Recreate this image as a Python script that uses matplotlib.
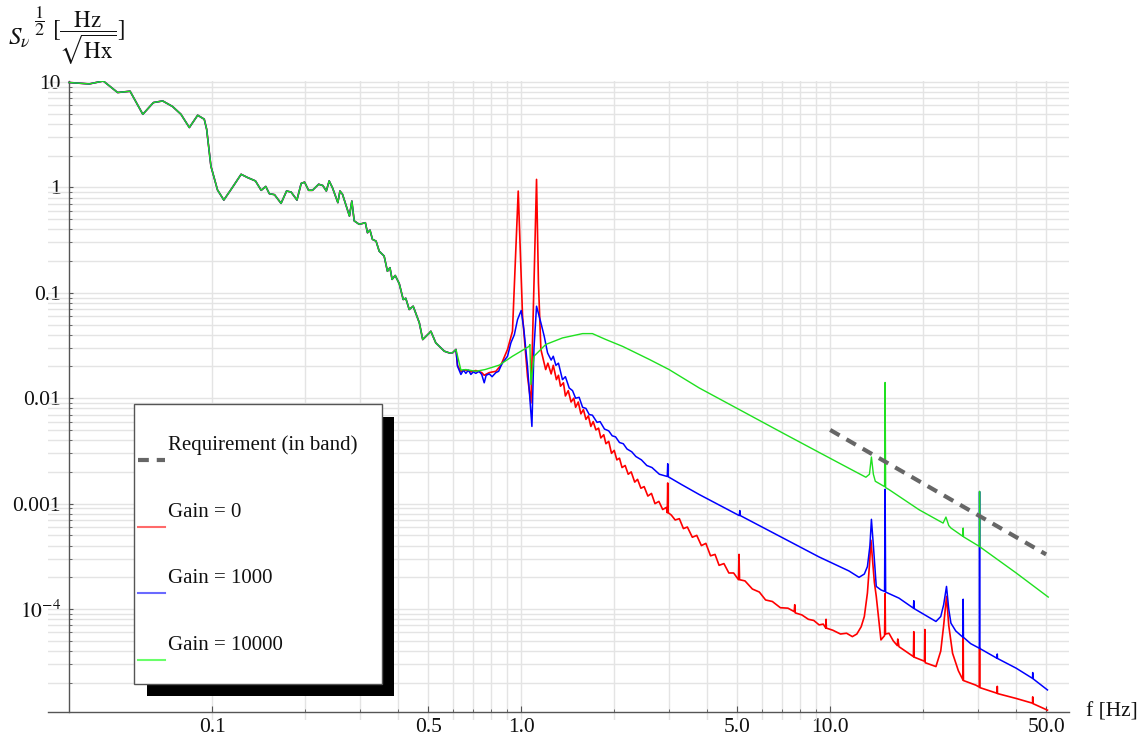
import numpy as np
import matplotlib
matplotlib.use('Agg')
import matplotlib.pyplot as plt
from matplotlib.patches import Rectangle
from matplotlib.lines import Line2D
from matplotlib.ticker import NullFormatter

plt.rcParams['font.family'] = ['Liberation Serif', 'DejaVu Serif']
plt.rcParams['mathtext.fontset'] = 'stix'

# --- data ----------------------------------------------------------------
# low frequency part, identical for the three gains
f_common = [0.0344, 0.040, 0.0444, 0.0494, 0.0542, 0.0596, 0.0645, 0.0691, 0.0744, 0.0792,
            0.0843, 0.0897, 0.0942, 0.0959, 0.099, 0.104, 0.109, 0.116, 0.124, 0.130,
            0.138, 0.144, 0.149, 0.153, 0.159, 0.167, 0.174, 0.180, 0.188, 0.194,
            0.199, 0.205, 0.211, 0.221, 0.228, 0.234, 0.239, 0.245, 0.255, 0.259,
            0.264, 0.278, 0.283, 0.288, 0.299, 0.313, 0.318, 0.324, 0.330, 0.339,
            0.347, 0.360, 0.369, 0.376, 0.382, 0.391, 0.403, 0.415, 0.423, 0.434,
            0.447, 0.468, 0.480, 0.505, 0.510, 0.529, 0.543, 0.556, 0.564, 0.585,
            0.600, 0.615]
s_common = [9.87, 9.57, 10.2, 7.93, 8.16, 4.93, 6.37, 6.6, 5.84, 4.93,
            3.69, 4.83, 4.43, 3.56, 1.59, 0.944, 0.758, 0.99, 1.33, 1.24,
            1.15, 0.937, 1.02, 0.871, 0.852, 0.705, 0.923, 0.902, 0.758, 1.09,
            1.12, 0.937, 0.937, 1.07, 1.04, 0.923, 1.15, 0.99, 0.716, 0.923,
            0.859, 0.534, 0.741, 0.481, 0.446, 0.462, 0.371, 0.393, 0.321, 0.309,
            0.248, 0.223, 0.160, 0.173, 0.134, 0.146, 0.122, 0.0863, 0.0887, 0.0694,
            0.0746, 0.0519, 0.036, 0.0417, 0.0432, 0.0335, 0.0311, 0.029, 0.0279, 0.0269,
            0.027, 0.029]

# Gain = 0
f_gain0 = [0.622, 0.638, 0.662, 0.687, 0.713, 0.745, 0.759, 0.788, 0.828, 0.859,
           0.903, 0.937, 0.961, 0.978, 0.993, 1.01, 1.048, 1.075, 1.10, 1.121,
           1.137, 1.158, 1.20, 1.22, 1.25, 1.27, 1.30, 1.32, 1.34, 1.37,
           1.39, 1.42, 1.45, 1.48, 1.50, 1.53, 1.56, 1.59, 1.62, 1.65,
           1.68, 1.71, 1.745, 1.78, 1.81, 1.85, 1.88, 1.92, 1.96, 2.00,
           2.04, 2.08, 2.12, 2.17, 2.22, 2.27, 2.33, 2.38, 2.44, 2.50,
           2.57, 2.64, 2.71, 2.79, 2.87, 2.95, 2.97, 2.98, 2.99, 3.06,
           3.15, 3.25, 3.35, 3.45, 3.58, 3.70, 3.83, 3.96, 4.10, 4.24,
           4.37, 4.53, 4.70, 4.87, 5.05, 5.07, 5.09, 5.30, 5.60, 5.90,
           6.18, 6.50, 6.90, 7.30, 7.65, 7.68, 7.71, 8.10, 8.50, 8.85,
           9.21, 9.50, 9.68, 9.70, 9.72, 10.2, 10.8, 11.3, 11.8, 12.2,
           12.6, 12.9, 13.2, 13.4, 13.55, 13.7, 13.9, 14.1, 14.4, 14.6,
           15.0, 15.06, 15.1, 15.5, 16.0, 16.5, 16.55, 16.7, 17.5, 18.6,
           18.65, 18.7, 20.2, 20.25, 20.3, 22.0, 22.8, 23.3, 23.8, 24.2,
           24.9, 26.0, 26.9, 26.95, 27.0, 29.6, 30.4, 30.45, 30.5, 34.7,
           34.75, 34.8, 40.0, 45.2, 45.25, 45.3, 50.5]
s_gain0 = [0.0205, 0.0180, 0.0185, 0.0178, 0.0183, 0.0175, 0.0165, 0.0175, 0.0180, 0.0205,
           0.029, 0.0432, 0.258, 0.922, 0.258, 0.060, 0.0161, 0.009, 0.124, 1.19,
           0.124, 0.029, 0.0187, 0.0215, 0.0170, 0.0205, 0.0150, 0.0165, 0.0130, 0.0140,
           0.0105, 0.0118, 0.0092, 0.0100, 0.0082, 0.0092, 0.0071, 0.0078, 0.0063, 0.0068,
           0.0054, 0.0060, 0.0050, 0.0052, 0.0042, 0.0045, 0.0037, 0.0039, 0.0030, 0.0032,
           0.0026, 0.0027, 0.0022, 0.0023, 0.0019, 0.0020, 0.0016, 0.0017, 0.0014, 0.00145,
           0.00118, 0.00125, 0.00100, 0.00105, 0.00088, 0.00092, 0.00082, 0.00157, 0.00082, 0.00078,
           0.00070, 0.00072, 0.00058, 0.00060, 0.00048, 0.00050, 0.00040, 0.00042, 0.00032, 0.00033,
           0.00026, 0.00027, 0.00022, 0.00022, 0.00019, 0.00033, 0.00019, 0.000185, 0.000155, 0.000145,
           0.000122, 0.000118, 0.000103, 0.000102, 0.0000946, 0.00011, 0.000092, 0.000088, 0.000080, 0.000078,
           0.0000708, 0.000072, 0.000066, 0.000080, 0.000066, 0.000063, 0.000058, 0.000059, 0.0000548, 0.000058,
           0.000068, 0.000085, 0.000142, 0.00026, 0.00045, 0.00030, 0.00018, 0.000132, 0.000075, 0.000051,
           0.000056, 0.00014, 0.000058, 0.000059, 0.000050, 0.000045, 0.000052, 0.000044, 0.000040, 0.0000354,
           0.000061, 0.000035, 0.000032, 0.000064, 0.000031, 0.0000285, 0.000040, 0.000070, 0.000132, 0.000070,
           0.0000381, 0.000026, 0.0000213, 0.000055, 0.000021, 0.000019, 0.0000182, 0.000043, 0.000018, 0.0000159,
           0.0000185, 0.0000158, 0.0000142, 0.0000128, 0.0000147, 0.0000127, 0.000011]

# Gain = 1000
f_gain1000 = [0.622, 0.638, 0.650, 0.662, 0.675, 0.687, 0.700, 0.713, 0.730, 0.745,
              0.759, 0.770, 0.788, 0.805, 0.828, 0.845, 0.859, 0.870, 0.903, 0.926,
              0.950, 0.973, 1.0, 1.02, 1.048, 1.083, 1.10, 1.121, 1.158, 1.187,
              1.217, 1.25, 1.27, 1.295, 1.32, 1.36, 1.39, 1.43, 1.466, 1.50,
              1.54, 1.58, 1.62, 1.66, 1.70, 1.76, 1.80, 1.86, 1.92, 1.97,
              2.02, 2.08, 2.14, 2.20, 2.28, 2.35, 2.45, 2.55, 2.65, 2.80,
              2.97, 2.98, 2.99, 3.3, 3.77, 5.08, 5.10, 5.12, 7.19, 9.21,
              11.5, 12.4, 12.9, 13.2, 13.45, 13.6, 13.8, 14.1, 14.6, 15.0,
              15.06, 15.12, 16.7, 18.6, 18.65, 18.7, 20.0, 22.0, 22.8, 23.3,
              23.8, 24.2, 24.6, 25.5, 26.9, 26.95, 27.0, 28.5, 30.4, 30.45,
              30.5, 34.7, 34.75, 34.8, 40.0, 45.2, 45.25, 45.3, 50.5]
s_gain1000 = [0.0201, 0.0168, 0.0185, 0.0172, 0.0185, 0.0168, 0.0178, 0.0172, 0.0180, 0.0168,
              0.0140, 0.0165, 0.0170, 0.0160, 0.0175, 0.0180, 0.0201, 0.0216, 0.025, 0.0335,
              0.040, 0.0557, 0.068, 0.0448, 0.0201, 0.0054, 0.030, 0.0746, 0.0519, 0.0387,
              0.0269, 0.0230, 0.0250, 0.0205, 0.0215, 0.0150, 0.0160, 0.0125, 0.0118, 0.0100,
              0.0102, 0.0082, 0.0080, 0.0070, 0.0069, 0.0059, 0.0060, 0.0051, 0.0049, 0.0044,
              0.0043, 0.0038, 0.0037, 0.0033, 0.0031, 0.0028, 0.0026, 0.0023, 0.0022, 0.0019,
              0.00181, 0.00239, 0.00180, 0.00152, 0.00122, 0.00077, 0.00086, 0.00077, 0.000456, 0.000312,
              0.00023, 0.000200, 0.000215, 0.000253, 0.00040, 0.00071, 0.00040, 0.000164, 0.000152, 0.000147,
              0.00137, 0.000145, 0.000127, 0.000102, 0.00012, 0.000101, 0.000090, 0.0000763, 0.000085, 0.00011,
              0.000164, 0.00010, 0.0000735, 0.000062, 0.000054, 0.000124, 0.000054, 0.000047, 0.0000425, 0.0013,
              0.0000423, 0.0000341, 0.0000375, 0.000034, 0.0000275, 0.0000220, 0.000025, 0.0000219, 0.0000171]

# Gain = 10000
f_gain10000 = [0.638, 0.662, 0.713, 0.764, 0.849, 0.937, 1.0, 1.06, 1.067, 1.075,
               1.10, 1.20, 1.36, 1.58, 1.70, 1.88, 2.13, 2.60, 3.01, 3.77,
               5.0, 7.0, 9.21, 11.0, 13.05, 13.4, 13.6, 13.8, 14.0, 15.0,
               15.06, 15.12, 15.5, 19.4, 23.2, 23.7, 24.2, 24.6, 26.9, 26.95,
               27.0, 30.4, 30.45, 30.5, 40.0, 50.8]
s_gain10000 = [0.0185, 0.0187, 0.0180, 0.0187, 0.0206, 0.025, 0.028, 0.031, 0.0323, 0.0135,
               0.025, 0.0323, 0.0373, 0.041, 0.041, 0.036, 0.031, 0.0233, 0.0187, 0.0125,
               0.0080, 0.0047, 0.00306, 0.00232, 0.00178, 0.0019, 0.00277, 0.0019, 0.00163, 0.00145,
               0.0141, 0.00142, 0.00136, 0.000875, 0.000654, 0.000746, 0.00062, 0.000587, 0.000489, 0.000587,
               0.000485, 0.000393, 0.00131, 0.00039, 0.00022, 0.000130]

# requirement (in band)
f_req = [10.0, 50.0]
s_req = [5.0e-3, 3.3e-4]

labels = ['Requirement (in band)', 'Gain = 0', 'Gain = 1000', 'Gain = 10000']

# -------------------------------------------------------------------------
W, H = 1144, 743
fig = plt.figure(figsize=(W / 100, H / 100), dpi=100)

def fx(px):
    return px / W

def fy(py):
    return 1 - py / H

ax = fig.add_axes([fx(48), fy(720), (1069 - 48) / W, (720 - 81) / H])
ax.set_xscale('log')
ax.set_yscale('log')
ax.set_xlim(0.0294, 59.3)
ax.set_ylim(8.87e-6, 10.2)

ax.plot(f_common + f_gain0, s_common + s_gain0, color='#ff0000', lw=1.2, zorder=3)
ax.plot(f_common + f_gain1000, s_common + s_gain1000, color='#0000ff', lw=1.1, zorder=4)
ax.plot(f_common + f_gain10000, s_common + s_gain10000, color='#1fe01f', lw=1.0, zorder=5)
ax.plot(f_req, s_req, color='#666666', lw=3.0, dashes=(2.6, 1.9), zorder=6)

# Mathematica-like axes crossing inside the frame
for s in ['top', 'right']:
    ax.spines[s].set_visible(False)
ax.spines['left'].set_position(('data', 0.0344))
ax.spines['bottom'].set_position(('data', 1.057e-5))
ax.spines['left'].set_bounds(1.057e-5, 10.2)
for s in ['left', 'bottom']:
    ax.spines[s].set_color('#555555')
    ax.spines[s].set_linewidth(1.0)

x_major = [0.1, 0.5, 1.0, 5.0, 10.0, 50.0]
x_minor = [0.2, 0.3, 0.4, 0.6, 0.7, 0.8, 0.9, 2, 3, 4, 6, 7, 8, 9, 20, 30, 40]
ax.set_xticks(x_major, labels=['0.1', '0.5', '1.0', '5.0', '10.0', '50.0'])
ax.set_xticks(x_minor, minor=True)
y_major = [1e-4, 1e-3, 1e-2, 0.1, 1, 10]
y_minor = [k * 10.0 ** n for n in range(-5, 1) for k in range(2, 10)]
ax.set_yticks(y_major, labels=[r'$10^{-4}$', '0.001', '0.01', '0.1', '1', '10'])
ax.set_yticks(y_minor, minor=True)
ax.xaxis.set_minor_formatter(NullFormatter())
ax.yaxis.set_minor_formatter(NullFormatter())
ax.tick_params(which='both', direction='in', color='#555555', labelsize=15.5, labelcolor='#111111')
ax.tick_params(axis='x', which='major', length=4, pad=4)
ax.tick_params(axis='x', which='minor', length=2.5)
ax.tick_params(axis='y', which='major', length=3, pad=6)
ax.tick_params(axis='y', which='minor', length=2.5)
ax.grid(which='both', color='#e4e4e4', lw=1.0)
ax.set_axisbelow(True)

fig.text(fx(1086), fy(712), 'f [Hz]', fontsize=15.5, va='center', ha='left', color='#111111')
# y label S_v^(1/2) [Hz / sqrt(Hx)] built from three pieces
fig.text(fx(8), fy(38), r'$S_{\nu}$', fontsize=18, va='center', ha='left', color='#111111')
fig.text(fx(40), fy(21), r'$\dfrac{1}{2}$', fontsize=13, va='center', ha='center', color='#111111')
fig.text(fx(52), fy(38), r'$[\dfrac{\mathrm{Hz}}{\sqrt{\mathrm{Hx}}}]$', fontsize=16.5,
         va='center', ha='left', color='#111111')

# legend box with black drop shadow
fig.add_artist(Rectangle((fx(147), fy(696)), (394 - 147) / W, (696 - 417) / H,
                         transform=fig.transFigure, facecolor='black', edgecolor='none', zorder=10))
fig.add_artist(Rectangle((fx(134), fy(684)), (382 - 134) / W, (684 - 404) / H,
                         transform=fig.transFigure, facecolor='white', edgecolor='#555555',
                         lw=1.0, zorder=11))
leg_colors = ['#666666', '#ff6a6a', '#6a6aff', '#6aff6a']
leg_text_y = [450, 516.7, 583.3, 650]
for i, lab in enumerate(labels):
    ly = leg_text_y[i] + 10
    if i == 0:
        ln = Line2D([fx(138), fx(165)], [fy(ly), fy(ly)], color=leg_colors[i], lw=3.0,
                    dashes=(2.6, 1.9), transform=fig.transFigure, zorder=12)
    else:
        ln = Line2D([fx(138), fx(165)], [fy(ly), fy(ly)], color=leg_colors[i], lw=1.5,
                    transform=fig.transFigure, zorder=12)
    fig.add_artist(ln)
    fig.text(fx(168), fy(leg_text_y[i]), lab, fontsize=15, va='baseline', ha='left',
             color='#111111', zorder=12)

fig.savefig('out.png', dpi=100)
